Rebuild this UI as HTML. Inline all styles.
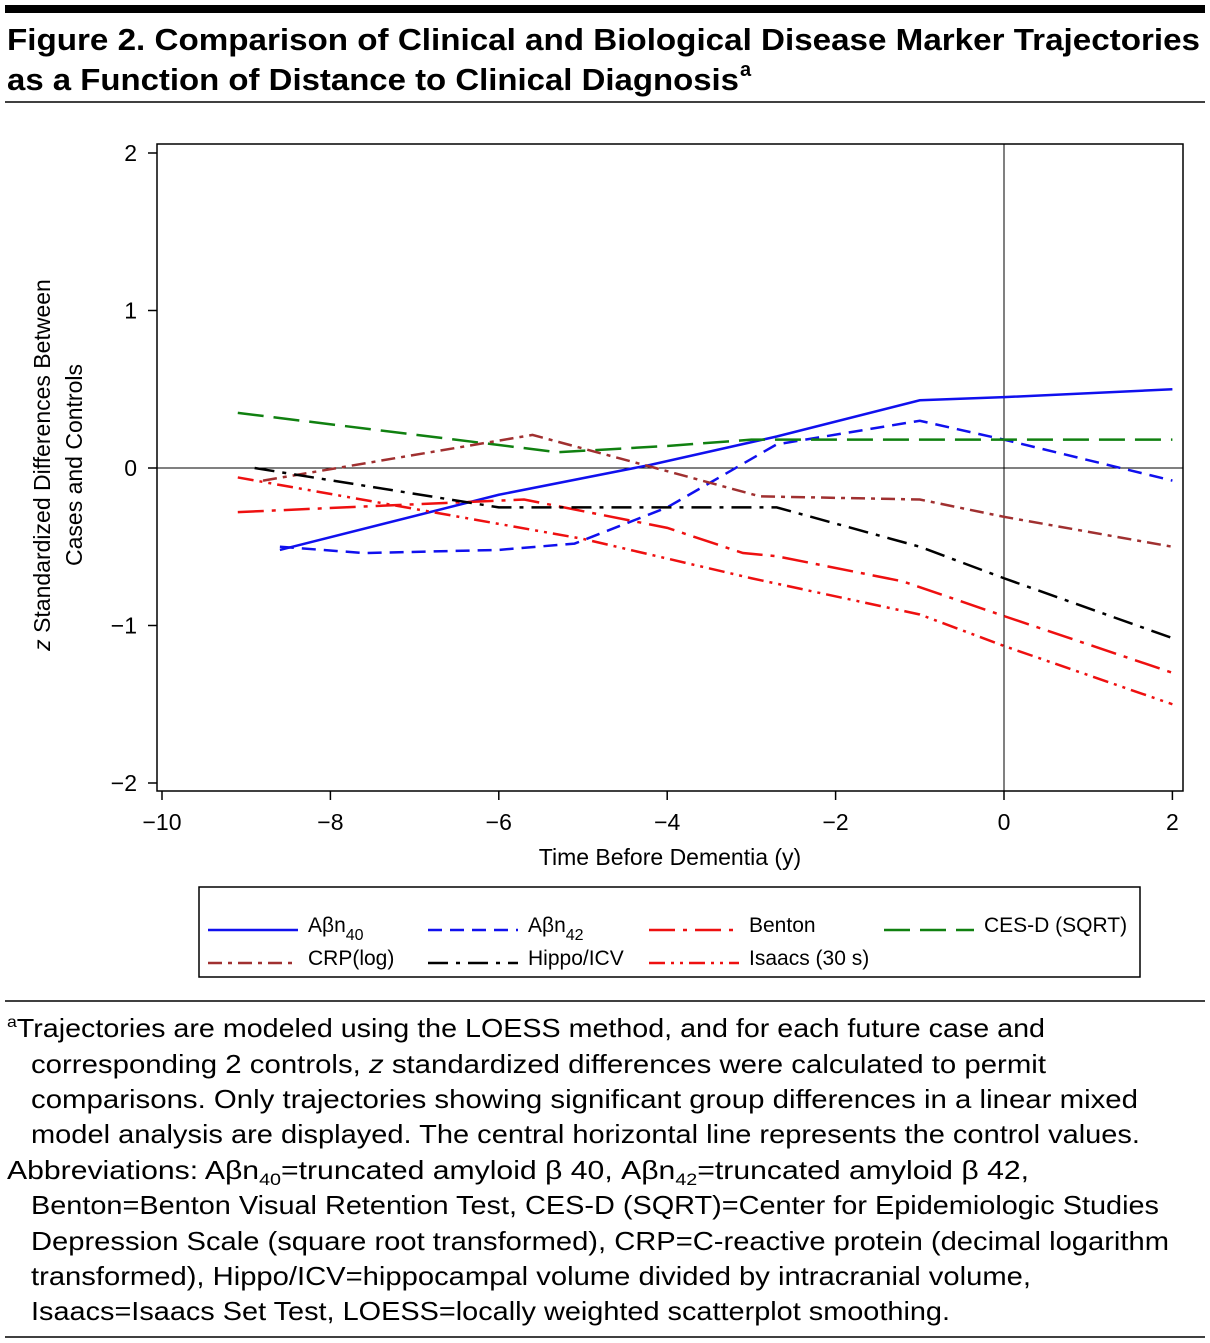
<!DOCTYPE html>
<html><head><meta charset="utf-8"><style>
body{margin:0;background:#fff}
svg{display:block;font-family:"Liberation Sans",sans-serif}
</style></head><body>
<svg id="fig" width="1210" height="1343" viewBox="0 0 1210 1343" xmlns="http://www.w3.org/2000/svg">
<rect x="5" y="5" width="1200" height="8" fill="#000"/>
<text x="7" y="50" font-size="31" font-weight="bold" textLength="1193" lengthAdjust="spacingAndGlyphs">Figure 2. Comparison of Clinical and Biological Disease Marker Trajectories</text>
<text x="7" y="90" font-size="31" font-weight="bold" textLength="732" lengthAdjust="spacingAndGlyphs">as a Function of Distance to Clinical Diagnosis</text>
<text x="740" y="76" font-size="20" font-weight="bold">a</text>
<line x1="5" y1="102" x2="1205" y2="102" stroke="#000" stroke-width="1.5"/>

<rect x="157" y="144" width="1026" height="647" fill="none" stroke="#000" stroke-width="1.5"/>
<g id="axes"></g>
<g id="series"></g>

<text transform="translate(50,465) rotate(-90)" font-size="23" text-anchor="middle"><tspan font-style="italic">z</tspan> Standardized Differences Between</text>
<text transform="translate(82,465) rotate(-90)" font-size="23" text-anchor="middle">Cases and Controls</text>
<text x="670" y="865" font-size="23" text-anchor="middle">Time Before Dementia (y)</text>

<rect x="199" y="887" width="941" height="90" fill="none" stroke="#000" stroke-width="1.5"/>
<g id="legend" font-size="21"></g>

<line x1="5" y1="1001" x2="1205" y2="1001" stroke="#000" stroke-width="1.5"/>
<g font-size="26">
<text x="7" y="1037" textLength="1038" lengthAdjust="spacingAndGlyphs"><tspan font-size="16" dy="-10">a</tspan><tspan dy="10">Trajectories are modeled using the LOESS method, and for each future case and</tspan></text>
<text x="31" y="1073" textLength="1015" lengthAdjust="spacingAndGlyphs">corresponding 2 controls, <tspan font-style="italic">z</tspan> standardized differences were calculated to permit</text>
<text x="31" y="1108" textLength="1107" lengthAdjust="spacingAndGlyphs">comparisons. Only trajectories showing significant group differences in a linear mixed</text>
<text x="31" y="1143" textLength="1109" lengthAdjust="spacingAndGlyphs">model analysis are displayed. The central horizontal line represents the control values.</text>
<text x="7" y="1179" textLength="1022" lengthAdjust="spacingAndGlyphs">Abbreviations: Aβn<tspan font-size="17" dy="6">40</tspan><tspan dy="-6">=truncated amyloid β 40, Aβn</tspan><tspan font-size="17" dy="6">42</tspan><tspan dy="-6">=truncated amyloid β 42,</tspan></text>
<text x="31" y="1214" textLength="1128" lengthAdjust="spacingAndGlyphs">Benton=Benton Visual Retention Test, CES-D (SQRT)=Center for Epidemiologic Studies</text>
<text x="31" y="1250" textLength="1138" lengthAdjust="spacingAndGlyphs">Depression Scale (square root transformed), CRP=C-reactive protein (decimal logarithm</text>
<text x="31" y="1285" textLength="1000" lengthAdjust="spacingAndGlyphs">transformed), Hippo/ICV=hippocampal volume divided by intracranial volume,</text>
<text x="31" y="1320" textLength="919" lengthAdjust="spacingAndGlyphs">Isaacs=Isaacs Set Test, LOESS=locally weighted scatterplot smoothing.</text>
</g>
<line x1="5" y1="1337" x2="1205" y2="1337" stroke="#000" stroke-width="1.5"/>
</svg>
<script>
const xTicks=[-10,-8,-6,-4,-2,0,2];
const yTicks=[2,1,0,-1,-2];
const xTickLabels=["−10","−8","−6","−4","−2","0","2"];
const yTickLabels=["2","1","0","−1","−2"];
const seriesNames=["Aβn40","Aβn42","Benton","CES-D (SQRT)","CRP(log)","Hippo/ICV","Isaacs (30 s)"];
const ab40X=[-8.6,-6,-4.2,-2.7,-1,0,2];
const ab40Y=[-0.52,-0.17,0.02,0.2,0.43,0.45,0.5];
const ab42X=[-8.6,-7.6,-6,-5.1,-4,-2.7,-1,0,2];
const ab42Y=[-0.5,-0.54,-0.52,-0.48,-0.25,0.15,0.3,0.18,-0.08];
const bentonX=[-9.1,-5.7,-4,-3.1,-2.7,-1.2,0,2];
const bentonY=[-0.28,-0.2,-0.38,-0.54,-0.56,-0.72,-0.94,-1.3];
const cesdX=[-9.1,-5.3,-4,-3,0,2];
const cesdY=[0.35,0.1,0.14,0.18,0.18,0.18];
const crpX=[-8.8,-5.6,-4,-2.9,-1,0,2];
const crpY=[-0.08,0.21,-0.02,-0.18,-0.2,-0.31,-0.5];
const hippoX=[-8.9,-6,-2.7,-1,0,2];
const hippoY=[0,-0.25,-0.25,-0.5,-0.7,-1.08];
const isaacsX=[-9.1,-5,-3,-1,0,2];
const isaacsY=[-0.06,-0.45,-0.7,-0.93,-1.13,-1.5];

const NS="http://www.w3.org/2000/svg";
const sx=v=>1004+v*84.2;
const sy=v=>468-v*157.5;
function mk(tag,attrs,parent){const e=document.createElementNS(NS,tag);for(const k in attrs)e.setAttribute(k,attrs[k]);parent.appendChild(e);return e;}
const ax=document.getElementById('axes');
xTicks.forEach((t,i)=>{
  const l=mk('line',{x1:sx(t),x2:sx(t),y1:791,y2:800,stroke:'#000','stroke-width':1.5},ax);
  
  
  const tx=mk('text',{x:sx(t),y:830,'font-size':23,'text-anchor':'middle'},ax);tx.textContent=xTickLabels[i];
  
  
});
yTicks.forEach((t,i)=>{
  const l=mk('line',{x1:148,x2:157,y1:sy(t),y2:sy(t),stroke:'#000','stroke-width':1.5},ax);
  
  
  const tx=mk('text',{x:137,y:sy(t)+8,'font-size':23,'text-anchor':'end'},ax);tx.textContent=yTickLabels[i];
  
  
});
const h=mk('line',{x1:157,x2:1183,y1:sy(0),y2:sy(0),stroke:'#000','stroke-width':1},ax);


const v=mk('line',{x1:sx(0),x2:sx(0),y1:144,y2:791,stroke:'#000','stroke-width':1},ax);



const styles=[
 {c:'#1010ee',d:''},
 {c:'#1010ee',d:'14 8'},
 {c:'#ee1010',d:'26 8 4 8'},
 {c:'#108010',d:'26 10'},
 {c:'#a03030',d:'14 6 4 6'},
 {c:'#000',d:'20 8 4 8'},
 {c:'#ee1010',d:'16 6 3 6 3 6'}
];
const data=[[ab40X,ab40Y],[ab42X,ab42Y],[bentonX,bentonY],[cesdX,cesdY],[crpX,crpY],[hippoX,hippoY],[isaacsX,isaacsY]];
const sg=document.getElementById('series');
const keys=['ab40','ab42','benton','cesd','crp','hippo','isaacs'];
data.forEach((s,i)=>{
  const pts=s[0].map((x,j)=>sx(x)+','+sy(s[1][j])).join(' ');
  const p=mk('polyline',{points:pts,fill:'none',stroke:styles[i].c,'stroke-width':2.5,'stroke-dasharray':styles[i].d},sg);
  
  
});
const lg=document.getElementById('legend');
const pos=[[208,930],[428,930],[649,930],[884,930],[208,963],[428,963],[649,963]];
seriesNames.forEach((n,i)=>{
  const [x,y]=pos[i];
  const l=mk('line',{x1:x,x2:x+90,y1:y,y2:y,stroke:styles[i].c,'stroke-width':2.5,'stroke-dasharray':styles[i].d},lg);
  
  
  const t=mk('text',{x:x+100,y:y+2},lg);
  if(n.startsWith('Aβn')){t.innerHTML='Aβn<tspan font-size="16" dy="8">'+n.slice(3)+'</tspan>';}else t.textContent=n;
  
  
});
</script>
</body></html>
